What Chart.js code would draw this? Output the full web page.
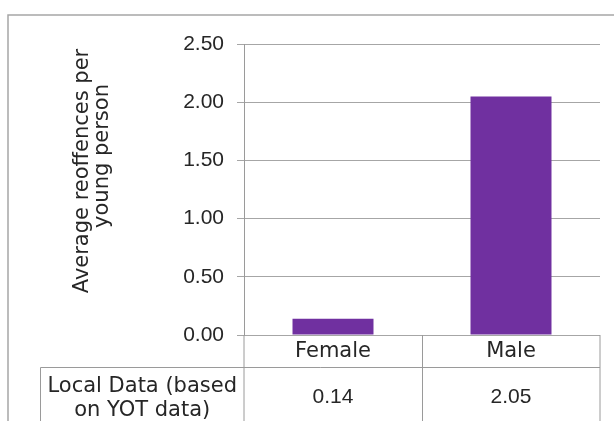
<!DOCTYPE html>
<html>
<head>
<meta charset="utf-8">
<title>Average reoffences per young person</title>
<script src="https://cdn.jsdelivr.net/npm/chart.js@4.4.1/dist/chart.umd.min.js"></script>
<style>
  html, body { margin: 0; padding: 0; background: #ffffff; overflow: hidden; }
  canvas { display: block; }
</style>
</head>
<body>
<canvas id="chart" width="614" height="421"></canvas>
<script>
// Data
const categories = ['Female', 'Male'];
const localData = [0.14, 2.05];
const seriesName = ['Local Data (based', 'on YOT data)'];
const axisTitle = ['Average reoffences per', 'young person'];
const yTicks = [0, 0.5, 1, 1.5, 2, 2.5];

const WORD_FONT = '21px "DejaVu Sans"';
const NUM_FONT = '21px "Liberation Sans"';
const TEXT_COLOR = '#262626';
const LINE_COLOR = '#9a9a9a';

// Outer frame, rotated axis title and the data table under the plot
const tablePlugin = {
  id: 'tablePlugin',
  afterDraw(chart) {
    const ctx = chart.ctx;
    const area = chart.chartArea;
    const x = chart.scales.x;
    const H = chart.height;

    ctx.save();
    // frame
    ctx.strokeStyle = '#a6a6a6';
    ctx.lineWidth = 1.5;
    ctx.beginPath();
    ctx.moveTo(8, H + 2);
    ctx.lineTo(8, 15);
    ctx.lineTo(chart.width + 2, 15);
    ctx.stroke();

    // axis title, two rotated lines
    ctx.fillStyle = TEXT_COLOR;
    ctx.font = WORD_FONT;
    ctx.textAlign = 'center';
    ctx.textBaseline = 'alphabetic';
    const titlePos = [[88, 171], [108, 156]];
    axisTitle.forEach((t, i) => {
      ctx.save();
      ctx.translate(titlePos[i][0], titlePos[i][1]);
      ctx.rotate(-Math.PI / 2);
      ctx.fillText(t, 0, 0);
      ctx.restore();
    });

    // table grid
    const rowTop = area.bottom;
    const catBottom = rowTop + 32.5;
    const headLeft = 40.5;
    const bounds = [area.left];
    for (let i = 0; i < categories.length - 1; i++) {
      bounds.push(Math.round((x.getPixelForValue(i) + x.getPixelForValue(i + 1)) / 2) + 0.5);
    }
    bounds.push(area.right);

    ctx.strokeStyle = LINE_COLOR;
    ctx.lineWidth = 1;
    ctx.beginPath();
    ctx.moveTo(headLeft, catBottom);
    ctx.lineTo(area.right, catBottom);
    bounds.forEach(b => {
      ctx.moveTo(b, rowTop);
      ctx.lineTo(b, H + 2);
    });
    ctx.moveTo(headLeft, catBottom);
    ctx.lineTo(headLeft, H + 2);
    ctx.stroke();

    // category labels
    ctx.textBaseline = 'middle';
    ctx.font = WORD_FONT;
    categories.forEach((c, i) => {
      ctx.fillText(c, x.getPixelForValue(i), rowTop + 17);
    });

    // series header
    const headCx = (headLeft + area.left) / 2;
    ctx.fillText(seriesName[0], headCx, catBottom + 19);
    ctx.fillText(seriesName[1], headCx, catBottom + 43);

    // values
    ctx.font = NUM_FONT;
    localData.forEach((v, i) => {
      ctx.fillText(v.toFixed(2), x.getPixelForValue(i), catBottom + 30);
    });
    ctx.restore();
  }
};

new Chart(document.getElementById('chart'), {
  type: 'bar',
  data: {
    labels: categories,
    datasets: [{
      label: seriesName.join(' '),
      data: localData,
      backgroundColor: '#7030A0',
      borderWidth: 0,
      barPercentage: 0.455,
      categoryPercentage: 1
    }]
  },
  options: {
    responsive: false,
    devicePixelRatio: 1,
    animation: false,
    layout: { padding: { top: 44, right: 14, bottom: 86, left: 0 } },
    plugins: {
      legend: { display: false },
      tooltip: { enabled: false },
      title: { display: false }
    },
    scales: {
      x: { display: false },
      y: {
        min: 0,
        max: 2.5,
        afterFit(scale) { scale.width = 244; },
        afterBuildTicks(scale) { scale.ticks = yTicks.map(v => ({ value: v })); },
        ticks: {
          padding: 13,
          color: TEXT_COLOR,
          font: { family: 'Liberation Sans', size: 21 },
          callback: v => Number(v).toFixed(2)
        },
        grid: {
          color: '#a6a6a6',
          lineWidth: 1,
          tickLength: 7,
          drawTicks: true
        },
        border: { display: true, color: LINE_COLOR, width: 1 }
      }
    }
  },
  plugins: [tablePlugin]
});
</script>
</body>
</html>
